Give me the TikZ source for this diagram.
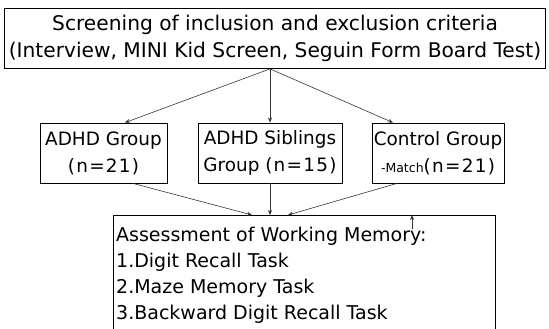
\documentclass[tikz,border=0pt]{standalone}
\usepackage{fontspec}
\setmainfont{DejaVu Sans}
\usetikzlibrary{arrows.meta}
\newcommand{\spaced}[1]{{\addfontfeature{LetterSpace=7}#1}}
\tikzset{
  box/.style={draw, line width=0.8pt, inner sep=0pt, align=center},
  conn/.style={draw=black!80, line width=0.6pt, -{Stealth[length=5pt,width=4pt]}},
  toptxt/.style={font=\fontsize{20.2}{27}\selectfont},
  grptxt/.style={font=\fontsize{18.4}{27}\selectfont},
  bottxt/.style={font=\fontsize{19}{26}\selectfont}
}
\begin{document}
\begin{tikzpicture}[x=1pt,y=-1pt]
\useasboundingbox (0,0) rectangle (549,329);
\node[box, toptxt, minimum width=541pt, minimum height=60pt] (screen) at (275,38.5)
  {Screening of inclusion and exclusion criteria\\(Interview, MINI Kid Screen, Seguin Form Board Test)};
\node[box, grptxt, minimum width=127pt, minimum height=60pt] (adhd) at (103.5,153)
  {ADHD Group\\\spaced{(n=21)}};
\node[box, grptxt, minimum width=144pt, minimum height=60pt] (sib) at (270,153)
  {ADHD Siblings\\Group \spaced{(n=15)}};
\node[box, grptxt, minimum width=132pt, minimum height=60pt] (ctrl) at (438,153)
  {Control Group\\{\fontsize{12.5}{14}\selectfont -Match}\spaced{(n=21)}};
\draw[line width=0.8pt] (113,340) |- (495,215) -- (495,340);
\node[bottxt, anchor=north west, align=left, inner sep=0pt] (assess) at (116,227)
  {Assessment of Working Memory:\\1.Digit Recall Task\\2.Maze Memory Task\\3.Backward Digit Recall Task};
\coordinate (src) at (sib.north |- screen.south);
\coordinate (atop) at (270,215);
\coordinate (aleft) at (252,215);
\coordinate (aright) at (288,215);
\coordinate (tick) at (412,229);
\coordinate (tickend) at (412,215);
\draw[conn] (src) -- (adhd.north -| 125,0);
\draw[conn] (src) -- (sib.north);
\draw[conn] (src) -- (ctrl.north -| 393,0);
\draw[conn] (adhd.south -| 133,0) -- (aleft);
\draw[conn] (sib.south) -- (atop);
\draw[conn] (ctrl.south -| 397,0) -- (aright);
\draw[conn] (tick) -- (tickend);
\end{tikzpicture}
\end{document}
